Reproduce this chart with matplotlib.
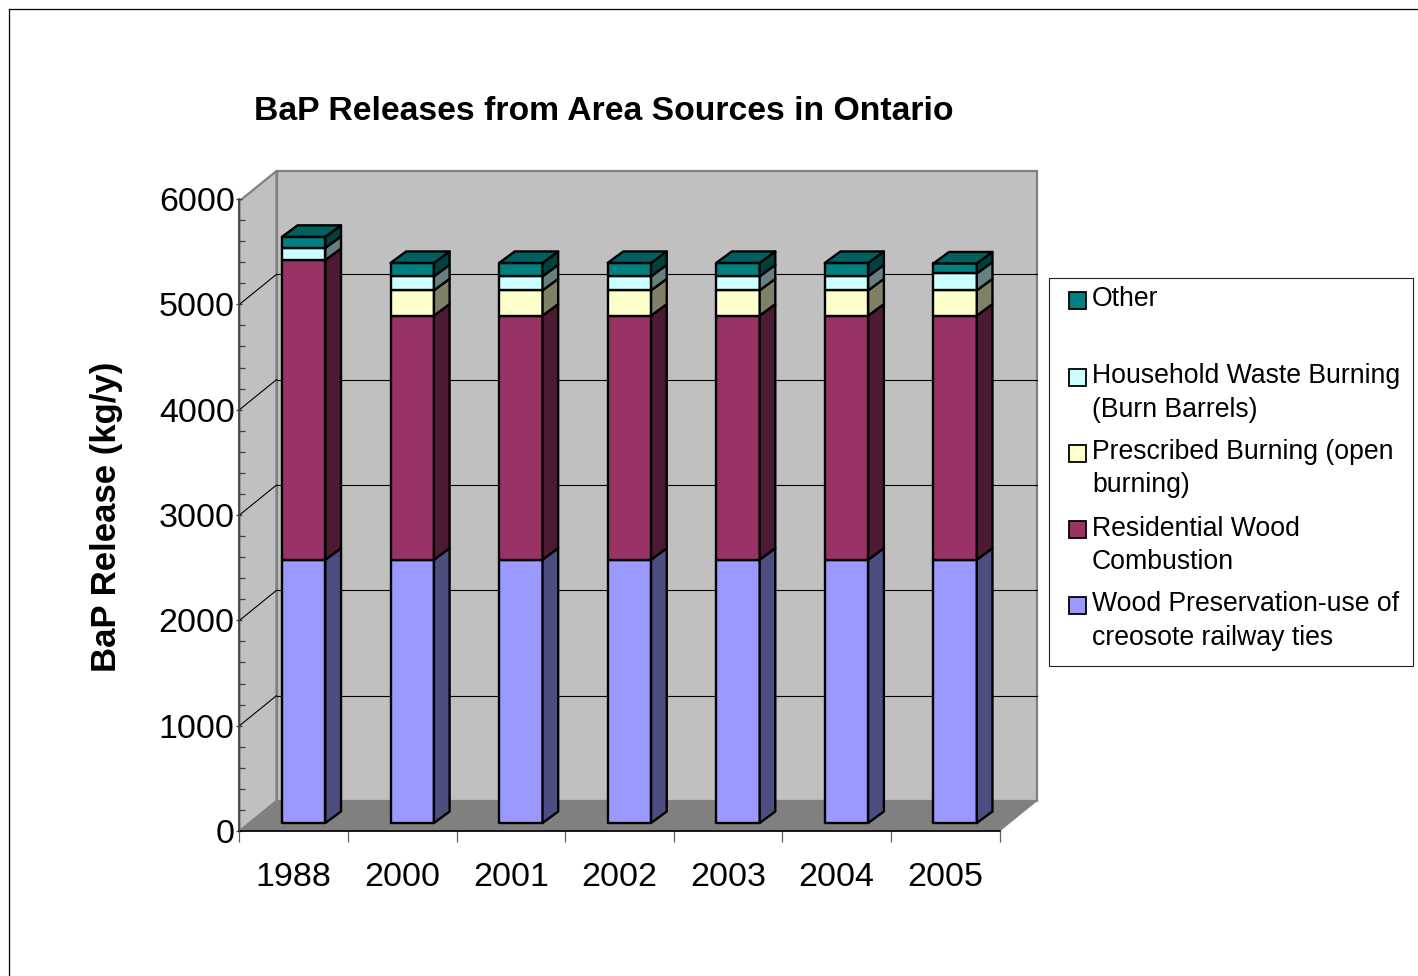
import matplotlib
matplotlib.use('Agg')
import matplotlib.pyplot as plt
from matplotlib.patches import Polygon, Rectangle
from matplotlib.lines import Line2D
import numpy as np

plt.rcParams['font.family'] = ['Liberation Sans', 'DejaVu Sans']

# Values, in kg/y
years = ['1988', '2000', '2001', '2002', '2003', '2004', '2005']
wood_preservation = [2500, 2500, 2500, 2500, 2500, 2500, 2500]
residential_wood = [2845, 2317, 2317, 2317, 2317, 2317, 2317]
prescribed_burning = [0, 240, 240, 240, 240, 240, 240]
household_waste = [115, 133, 133, 133, 133, 133, 160]
other = [105, 127, 127, 127, 127, 127, 95]

series = [wood_preservation, residential_wood, prescribed_burning, household_waste, other]
colors = ['#9999FF', '#993366', '#FFFFCC', '#CCFFFF', '#008080']
side_colors = ['#4D4D80', '#4D1A33', '#808066', '#668080', '#004040']
top_colors = ['#7373BF', '#73264D', '#BFBF99', '#99BFBF', '#006060']

legend_labels = [
    ('#008080', 300, [(299, 'Other')]),
    ('#CCFFFF', 377, [(376, 'Household Waste Burning'), (410, '(Burn Barrels)')]),
    ('#FFFFCC', 453, [(452, 'Prescribed Burning (open'), (485, 'burning)')]),
    ('#993366', 529, [(529, 'Residential Wood'), (562, 'Combustion')]),
    ('#9999FF', 605, [(604, 'Wood Preservation-use of'), (638, 'creosote railway ties')]),
]

W, H = 1418, 976
LEFT, RIGHT, BOTTOM, TOP = 240, 1000, 831, 199

# Depth of the box in data units
DEPTH_X = 37 / ((RIGHT - LEFT) / 7)
DEPTH_Y = 30 / ((BOTTOM - TOP) / 6000)
BAR_FRONT = 0.267
BAR_BACK_X = 0.69
BAR_BACK_Y = 0.65
BAR_WIDTH = 0.40


def fx(x):
    return x / W


def fy(y):
    return 1 - y / H


fig = plt.figure(figsize=(W / 100, H / 100), dpi=100)
ax = fig.add_axes([fx(LEFT - 0.5), fy(BOTTOM), (RIGHT - LEFT) / W, (BOTTOM - TOP) / H])
ax.set_xlim(0, 7)
ax.set_ylim(0, 6000)
ax.patch.set_visible(False)
for s in ax.spines.values():
    s.set_visible(False)

# Outer frame of the page, runs off the right and bottom edges
fig.add_artist(Line2D([fx(9), fx(9)], [0, fy(8.5)], color='black', lw=0.9))
fig.add_artist(Line2D([fx(9), 1], [fy(8.5), fy(8.5)], color='black', lw=0.9))

# Walls and floor
ymax = 6000 - 2 / ((BOTTOM - TOP) / 6000)
wall_back = Polygon([(DEPTH_X, DEPTH_Y), (7 + DEPTH_X, DEPTH_Y), (7 + DEPTH_X, ymax + DEPTH_Y), (DEPTH_X, ymax + DEPTH_Y)],
                    facecolor='#C0C0C0', edgecolor='#808080', lw=1.6, clip_on=False, zorder=1)
wall_side = Polygon([(0, 0), (DEPTH_X, DEPTH_Y), (DEPTH_X, ymax + DEPTH_Y), (0, ymax)],
                    facecolor='#C0C0C0', edgecolor='#808080', lw=1.6, clip_on=False, zorder=1)
floor = Polygon([(0, 0), (7, 0), (7 + DEPTH_X, DEPTH_Y), (DEPTH_X, DEPTH_Y)],
                facecolor='#808080', edgecolor='#808080', lw=0.8, clip_on=False, zorder=1)
ax.add_patch(wall_back)
ax.add_patch(wall_side)
ax.add_patch(floor)

# Gridlines on both walls
for v in range(1000, 6000, 1000):
    ax.plot([DEPTH_X, 7 + DEPTH_X], [v + DEPTH_Y, v + DEPTH_Y], color='black', lw=0.8, clip_on=False, zorder=2)
    ax.plot([0, DEPTH_X], [v, v + DEPTH_Y], color='black', lw=0.8, clip_on=False, zorder=2)

# Bars, with the depth shift applied to the front face
x = np.arange(len(years)) + 0.5
x0 = x + BAR_FRONT * DEPTH_X
base = BAR_FRONT * DEPTH_Y
dx = (BAR_BACK_X - BAR_FRONT) * DEPTH_X
dy = (BAR_BACK_Y - BAR_FRONT) * DEPTH_Y
edge = dict(edgecolor='black', lw=1.7, joinstyle='round')

for i in range(len(years)):
    bottom = base
    for j, values in enumerate(series):
        v = values[i]
        if v == 0:
            continue
        a = x0[i] - BAR_WIDTH / 2
        b = x0[i] + BAR_WIDTH / 2
        ax.bar(x0[i], v, BAR_WIDTH, bottom=bottom, color=colors[j], clip_on=False, zorder=3, **edge)
        ax.add_patch(Polygon([(b, bottom), (b + dx, bottom + dy), (b + dx, bottom + v + dy), (b, bottom + v)],
                             facecolor=side_colors[j], clip_on=False, zorder=3, **edge))
        bottom += v
    ax.add_patch(Polygon([(a, bottom), (b, bottom), (b + dx, bottom + dy), (a + dx, bottom + dy)],
                         facecolor=top_colors[-1], clip_on=False, zorder=3, **edge))

# Axes
ax.plot([0, 7], [0, 0], color='black', lw=1.2, clip_on=False, zorder=4)
ax.plot([0, 0], [0, 6000], color='#404040', lw=1.2, clip_on=False, zorder=4)
ax.set_xticks(np.arange(8))
ax.set_xticklabels([])
ax.tick_params(axis='x', length=8, width=0.9, color='#606060', direction='out')
ax.set_yticks(np.arange(0, 7000, 1000))
ax.set_yticks(np.arange(0, 6200, 200), minor=True)
ax.set_yticklabels([str(v) for v in range(0, 7000, 1000)], fontsize=24.5)
ax.tick_params(axis='y', which='major', length=5, width=0.9, color='#404040', direction='inout', pad=1)
ax.tick_params(axis='y', which='minor', length=4.5, width=0.9, color='#404040', direction='in')
for i, year in enumerate(years):
    ax.text(i + 0.5, -6000 * 46 / (BOTTOM - TOP), year, fontsize=24.5, ha='center', va='center', clip_on=False)

fig.text(fx(604), fy(111), 'BaP Releases from Area Sources in Ontario', fontsize=24.3, fontweight='bold',
         ha='center', va='center')
fig.text(fx(107), fy(517), 'BaP Release (kg/y)', fontsize=25, fontweight='bold', rotation=90,
         ha='center', va='center')

# Legend box
fig.add_artist(Rectangle((fx(1048.5), fy(666)), 364 / W, 388 / H, transform=fig.transFigure,
                         facecolor='white', edgecolor='#202020', lw=0.8))
for color, swatch_y, lines in legend_labels:
    fig.add_artist(Rectangle((fx(1069), fy(swatch_y + 8.5)), 17 / W, 17 / H, transform=fig.transFigure,
                             facecolor=color, edgecolor='black', lw=1.3))
    for line_y, label in lines:
        fig.text(fx(1092), fy(line_y), label, fontsize=19.2, ha='left', va='center')

fig.savefig('out.png', dpi=100)
